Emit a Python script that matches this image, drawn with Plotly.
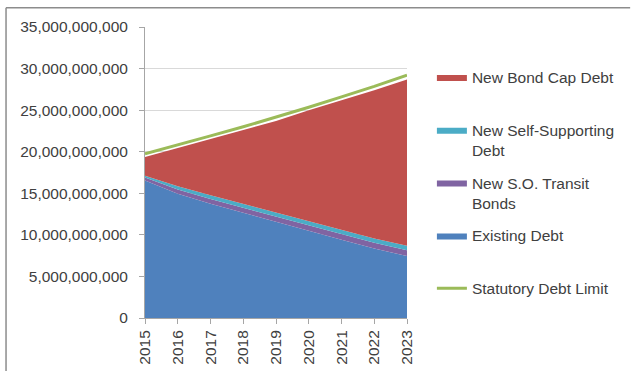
import plotly.graph_objects as go

# Fiscal years shown on the horizontal axis
years = [2015, 2016, 2017, 2018, 2019, 2020, 2021, 2022, 2023]

# Outstanding debt components, in billions of dollars (stacked bottom to top)
existing_debt = [16.55, 14.95, 13.75, 12.65, 11.55, 10.50, 9.40, 8.35, 7.45]
so_transit_bonds = [0.35, 0.50, 0.55, 0.60, 0.60, 0.65, 0.65, 0.70, 0.70]
self_supporting = [0.20, 0.40, 0.45, 0.45, 0.50, 0.50, 0.50, 0.50, 0.55]
bond_cap_debt = [2.25, 4.60, 6.80, 8.90, 11.05, 13.35, 15.65, 17.85, 20.00]

# Statutory debt limit, in billions of dollars
debt_limit = [19.75, 20.80, 21.90, 23.00, 24.15, 25.35, 26.60, 27.85, 29.20]

y_ticks = [0, 5e9, 10e9, 15e9, 20e9, 25e9, 30e9, 35e9]

BILLION = 1e9
FONT = "Liberation Sans, Arial, sans-serif"
TEXT_COLOR = "#404040"

# (name in legend, values, fill colour, legend position)
stack = [
    ("Existing Debt<br> ", existing_debt, "#4F81BD", 4),
    ("New S.O. Transit<br>Bonds", so_transit_bonds, "#8064A2", 3),
    ("New Self-Supporting<br>Debt", self_supporting, "#4BACC6", 2),
    ("New Bond Cap Debt<br> ", bond_cap_debt, "#C0504D", 1),
]

fig = go.Figure()
for name, values, color, rank in stack:
    fig.add_trace(go.Scatter(
        x=years,
        y=[v * BILLION for v in values],
        name=name,
        mode="lines",
        stackgroup="debt",
        line=dict(width=0, color=color),
        fillcolor=color,
        legendrank=rank,
        legendgroup=name,
        hoverinfo="skip",
    ))

fig.add_trace(go.Scatter(
    x=years,
    y=[v * BILLION for v in debt_limit],
    name="Statutory Debt Limit<br> ",
    mode="lines",
    line=dict(width=3, color="#9BBB59"),
    legendrank=5,
    legendgroup="limit",
    hoverinfo="skip",
))

W, H = 632, 377
L, R, T, B = 145, 224, 27, 54
pw, ph = W - L - R, H - T - B


def px_x(px):
    return (px - L) / pw


def px_y(py):
    return (H - B - py) / ph


# Thin grey frame along the top and left edges of the chart area
frame = dict(color="#8c8c8c", width=1.5)
shapes = [
    dict(type="line", xref="paper", yref="paper",
         x0=px_x(5.5), x1=px_x(W), y0=px_y(7.5), y1=px_y(7.5), line=frame),
    dict(type="line", xref="paper", yref="paper",
         x0=px_x(5.5), x1=px_x(5.5), y0=px_y(7.5), y1=px_y(H), line=frame),
]

fig.update_layout(
    width=W,
    height=H,
    margin=dict(l=L, r=R, t=T, b=B),
    paper_bgcolor="white",
    plot_bgcolor="white",
    font=dict(family=FONT, size=15.5, color=TEXT_COLOR),
    shapes=shapes,
    showlegend=True,
    legend=dict(
        x=px_x(433),
        y=px_y(61),
        xanchor="left",
        yanchor="top",
        traceorder="grouped",
        tracegroupgap=9.5,
        valign="top",
        font=dict(family=FONT, size=15.5, color=TEXT_COLOR),
        bgcolor="rgba(0,0,0,0)",
    ),
    xaxis=dict(
        range=[years[0], years[-1]],
        tickvals=years,
        ticktext=[str(y) for y in years],
        tickangle=-90,
        showgrid=False,
        showline=True,
        linecolor="#a6a6a6",
        linewidth=1,
        ticks="outside",
        ticklen=5,
        tickcolor="#a6a6a6",
        zeroline=False,
        fixedrange=True,
    ),
    yaxis=dict(
        range=[0, 35 * BILLION],
        tickvals=y_ticks,
        tickformat=",d",
        showgrid=True,
        gridcolor="#d9d9d9",
        gridwidth=1,
        showline=True,
        linecolor="#a6a6a6",
        linewidth=1,
        ticks="outside",
        ticklen=5,
        tickcolor="#a6a6a6",
        ticklabelstandoff=8,
        zeroline=False,
        fixedrange=True,
    ),
)

fig.write_html("out.html", config={"displayModeBar": False})
